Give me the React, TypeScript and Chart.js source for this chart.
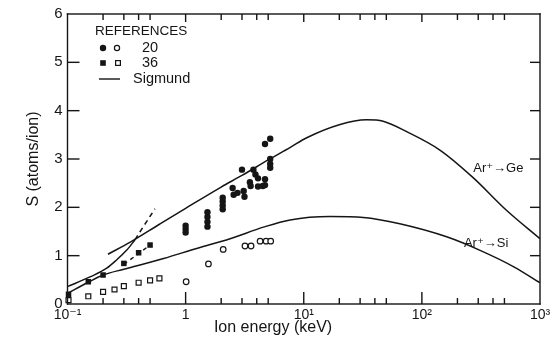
import React, { useEffect, useRef } from "react";
import { Chart, registerables } from "chart.js";

Chart.register(...registerables);

const INK = "#151515";
const FONT = "'Liberation Sans', 'DejaVu Sans', sans-serif";

// Sigmund theory, Ar+ -> Ge
const geSigmundE = [0.22, 0.34, 0.6, 1, 2, 3, 5, 7.7, 10.6, 20, 34, 47, 75, 143, 270, 520, 1000];
const geSigmundS = [1.03, 1.28, 1.65, 1.98, 2.42, 2.66, 2.98, 3.24, 3.44, 3.71, 3.81, 3.78, 3.56, 3.18, 2.62, 1.94, 1.35];

// Sigmund theory, Ar+ -> Si
const siSigmundE = [0.1, 0.15, 0.2, 0.3, 0.65, 1.24, 2.38, 4.55, 7.66, 16.7, 32, 65, 162, 311, 600, 1000];
const siSigmundS = [0.22, 0.45, 0.6, 0.72, 0.94, 1.15, 1.35, 1.59, 1.74, 1.81, 1.79, 1.66, 1.39, 1.11, 0.77, 0.44];

// low-energy curve (solid part, then dashed continuation)
const lowCurveE = [0.1, 0.155, 0.215, 0.26, 0.316, 0.373];
const lowCurveS = [0.36, 0.56, 0.74, 0.91, 1.11, 1.33];
const lowDashE = [0.373, 0.41, 0.55];
const lowDashS = [1.33, 1.49, 1.97];

// dashed line through ref 36 squares
const sqDashE = [0.3, 0.5];
const sqDashS = [0.82, 1.22];

// Reference 20 (filled = Ge, open = Si)
const ref20GeE = [1.0, 1.0, 1.0, 1.53, 1.53, 1.53, 1.53, 2.06, 2.06, 2.06, 2.06, 2.5, 2.55, 2.75, 3.0, 3.1, 3.15, 3.5, 3.55, 3.75, 3.9, 4.1, 4.1, 4.5, 4.7, 4.7, 4.7, 5.2, 5.2, 5.2, 5.2];
const ref20GeS = [1.62, 1.55, 1.48, 1.9, 1.8, 1.7, 1.6, 2.2, 2.12, 2.04, 1.96, 2.4, 2.26, 2.3, 2.78, 2.34, 2.22, 2.52, 2.44, 2.78, 2.68, 2.6, 2.43, 2.44, 2.58, 2.46, 3.31, 3.42, 3.0, 2.9, 2.82];
const ref20SiE = [1.01, 1.56, 2.08, 3.18, 3.58, 4.27, 4.8, 5.25];
const ref20SiS = [0.46, 0.83, 1.13, 1.2, 1.2, 1.3, 1.3, 1.3];

// Reference 36 (filled = Ge, open = Si)
const ref36GeE = [0.102, 0.15, 0.2, 0.3, 0.4, 0.5];
const ref36GeS = [0.2, 0.46, 0.6, 0.84, 1.06, 1.22];
const ref36SiE = [0.102, 0.15, 0.2, 0.25, 0.3, 0.4, 0.5, 0.6];
const ref36SiS = [0.08, 0.16, 0.25, 0.3, 0.37, 0.44, 0.49, 0.53];

// axis ticks
const xTickValues = [0.1, 1, 10, 100, 1000];
const xTickLabels = ["10\u207B\u00B9", "1", "10\u00B9", "10\u00B2", "10\u00B3"];
const xDecades = [0.1, 1, 10, 100];
const xMinorMultipliers = [2, 3, 4, 5];
const yTickValues = [1, 2, 3, 4, 5];

// curve labels
const curveLabels = [
  { text: "Ar\u207A\u2192Ge", e: 272, s: 2.8 },
  { text: "Ar\u207A\u2192Si", e: 227, s: 1.26 },
];

const toPts = (xs: number[], ys: number[]) => xs.map((x, i) => ({ x, y: ys[i] }));

const framePlugin = {
  id: "framePlugin",
  afterDraw(chart: any) {
    const { ctx, chartArea: a, scales } = chart;
    const xs = scales.x;
    const ys = scales.y;
    const L = a.left, R = a.right, T = a.top, B = a.bottom;
    const lw = 1.4;
    ctx.save();
    ctx.setLineDash([]);
    ctx.globalAlpha = 1;
    ctx.fillStyle = INK;
    ctx.strokeStyle = INK;
    // frame
    ctx.fillRect(L - lw / 2, T - lw / 2, R - L + lw, lw);
    ctx.fillRect(L - lw / 2, B - lw / 2, R - L + lw, lw);
    ctx.fillRect(L - lw / 2, T - lw / 2, lw, B - T + lw);
    ctx.fillRect(R - lw / 2, T - lw / 2, lw, B - T + lw);

    // x ticks (inward, bottom and top)
    const tickXs: { px: number; major: boolean }[] = [];
    xDecades.forEach((d) => {
      [1, 2, 3, 4, 5].forEach((m) => {
        if (m !== 1 && xMinorMultipliers.indexOf(m) < 0) return;
        const v = d * m;
        if (v < 0.15 || v > 900) return;
        tickXs.push({ px: xs.getPixelForValue(v), major: m === 1 });
      });
    });
    tickXs.forEach((t) => {
      const lb = t.major ? 12 : 6;
      const lt = t.major ? 8 : 6;
      ctx.fillRect(t.px - lw / 2, B - lb, lw, lb);
      ctx.fillRect(t.px - lw / 2, T, lw, lt);
    });
    // y ticks (inward, left and right)
    yTickValues.forEach((v) => {
      const py = ys.getPixelForValue(v);
      ctx.fillRect(L, py - lw / 2, 12, lw);
      ctx.fillRect(R - 10, py - lw / 2, 10, lw);
    });

    // legend
    const lx = L;
    const ly = T;
    ctx.textBaseline = "middle";
    ctx.textAlign = "left";
    ctx.font = `13.5px ${FONT}`;
    ctx.fillText("REFERENCES", lx + 27.5, ly + 17);
    ctx.font = `14.5px ${FONT}`;
    ctx.fillText("20", lx + 74.5, ly + 34);
    ctx.fillText("36", lx + 74.5, ly + 49);
    ctx.fillText("Sigmund", lx + 65.5, ly + 65);
    ctx.beginPath();
    ctx.arc(lx + 35.5, ly + 34, 3.2, 0, Math.PI * 2);
    ctx.fill();
    ctx.beginPath();
    ctx.lineWidth = 1.2;
    ctx.arc(lx + 49.5, ly + 34, 2.6, 0, Math.PI * 2);
    ctx.stroke();
    ctx.fillRect(lx + 35.5 - 2.8, ly + 49 - 2.8, 5.6, 5.6);
    ctx.strokeRect(lx + 50.5 - 2.4, ly + 49 - 2.4, 4.8, 4.8);
    ctx.fillRect(lx + 31.5, ly + 65 - 0.7, 21, 1.4);

    // curve labels
    ctx.font = `13px ${FONT}`;
    for (const c of curveLabels) {
      ctx.fillText(c.text, xs.getPixelForValue(c.e), ys.getPixelForValue(c.s));
    }

    // x axis title
    ctx.font = `16px ${FONT}`;
    ctx.textAlign = "center";
    ctx.fillText("Ion energy (keV)", L + 0.435 * (R - L), B + 24);
    ctx.restore();
  },
};

export default function App() {
  const canvasRef = useRef<HTMLCanvasElement | null>(null);

  useEffect(() => {
    document.body.style.margin = "0";
    const canvas = canvasRef.current;
    if (!canvas) return;

    const lineDs = (xs: number[], ys: number[], dash: number[] = []) => ({
      data: toPts(xs, ys),
      showLine: true,
      borderColor: INK,
      borderWidth: 1.5,
      borderDash: dash,
      pointRadius: 0,
      cubicInterpolationMode: "monotone" as const,
      fill: false,
    });

    const chart = new Chart(canvas, {
      type: "scatter",
      data: {
        datasets: [
          lineDs(geSigmundE, geSigmundS),
          lineDs(siSigmundE, siSigmundS),
          lineDs(lowCurveE, lowCurveS),
          lineDs(lowDashE, lowDashS, [5, 4]),
          lineDs(sqDashE, sqDashS, [4, 4]),
          {
            data: toPts(ref20GeE, ref20GeS),
            pointStyle: "circle",
            pointRadius: 3.2,
            backgroundColor: INK,
            borderColor: INK,
            borderWidth: 0,
            clip: false,
          },
          {
            data: toPts(ref20SiE, ref20SiS),
            pointStyle: "circle",
            pointRadius: 2.8,
            backgroundColor: "#ffffff",
            borderColor: INK,
            borderWidth: 1.2,
            clip: false,
          },
          {
            data: toPts(ref36GeE, ref36GeS),
            pointStyle: "rect",
            pointRadius: 3.9,
            backgroundColor: INK,
            borderColor: INK,
            borderWidth: 0,
            clip: false,
          },
          {
            data: toPts(ref36SiE, ref36SiS),
            pointStyle: "rect",
            pointRadius: 3.5,
            backgroundColor: "#ffffff",
            borderColor: INK,
            borderWidth: 1.2,
            clip: false,
          },
        ] as any,
      },
      options: {
        animation: false,
        responsive: false,
        devicePixelRatio: 1,
        layout: { padding: { left: 22, top: 13, right: 14, bottom: 0 } },
        plugins: { legend: { display: false }, tooltip: { enabled: false } },
        scales: {
          x: {
            type: "logarithmic",
            min: 0.1,
            max: 1000,
            grid: { display: false, drawTicks: false },
            border: { display: false },
            afterBuildTicks: (s: any) => {
              s.ticks = xTickValues.map((v) => ({ value: v, major: true }));
            },
            afterFit: (s: any) => {
              s.height = 43;
            },
            ticks: {
              autoSkip: false,
              maxRotation: 0,
              padding: 3,
              color: INK,
              font: { family: FONT, size: 14 },
              callback: (_v: any, i: number) => xTickLabels[i],
            },
          },
          y: {
            type: "linear",
            min: 0,
            max: 6,
            grid: { display: false, drawTicks: false },
            border: { display: false },
            afterFit: (s: any) => {
              s.width = 45.5;
            },
            ticks: {
              stepSize: 1,
              padding: 5,
              color: INK,
              font: { family: FONT, size: 15 },
            },
            title: {
              display: true,
              text: "S (atoms/ion)",
              color: INK,
              font: { family: FONT, size: 16 },
              padding: { top: 2, bottom: 0 },
            },
          },
        },
      } as any,
      plugins: [framePlugin],
    });

    return () => chart.destroy();
  }, []);

  return (
    <div style={{ width: 554, height: 347, background: "#ffffff" }}>
      <canvas ref={canvasRef} width={554} height={347} style={{ display: "block" }} />
    </div>
  );
}
